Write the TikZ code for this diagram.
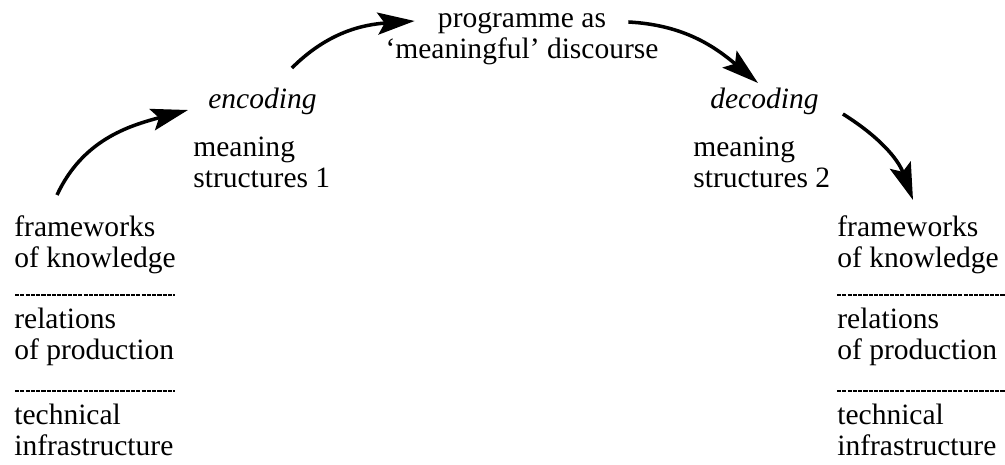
\documentclass[tikz,border=0pt]{standalone}
\usepackage{fontspec}
\setmainfont{Liberation Serif}
\usetikzlibrary{arrows.meta}

\tikzset{
    lbl/.style={inner sep=0pt, font=\fontsize{16.8}{20}\selectfont},
    flowarrow/.style={line width=2pt, -{Stealth[length=0.74cm, width=0.44cm, inset=0.14cm]}},
    rule/.style={line width=0.9pt, dash pattern=on 2.4pt off 0.6pt}
}

\begin{document}
\begin{tikzpicture}[x=0.02cm, y=0.02cm]
    \useasboundingbox (0,0) rectangle (1005,-465);

%____________________________________________________________________________________________________
    % top of the loop
    \node[lbl, anchor=base] (prog) at (522,-28) {programme as};
    \node[lbl, anchor=base] (disc) at (522,-59) {‘meaningful’ discourse};

    \node[lbl, anchor=base west] (enc) at (208,-109) {\itshape encoding};
    \node[lbl, anchor=base west] (msA) at (193,-157) {meaning};
    \node[lbl, anchor=base west] (msAb) at (193,-188) {structures 1};

    \node[lbl, anchor=base west] (dec) at (710,-109) {\itshape decoding};
    \node[lbl, anchor=base west] (msB) at (693,-157) {meaning};
    \node[lbl, anchor=base west] (msBb) at (693,-188) {structures 2};

%____________________________________________________________________________________________________
    % left stack
    \node[lbl, anchor=base west] (fwL) at (14,-237) {frameworks};
    \node[lbl, anchor=base west] (knowL) at (14,-268) {of knowledge};
    \draw[rule] (15,-295) -- (175,-295);
    \node[lbl, anchor=base west] (relL) at (14,-329) {relations};
    \node[lbl, anchor=base west] (prodL) at (14,-360) {of production};
    \draw[rule] (15,-391) -- (175,-391);
    \node[lbl, anchor=base west] (techL) at (14,-425) {technical};
    \node[lbl, anchor=base west] (infL) at (14,-456) {infrastructure};

%____________________________________________________________________________________________________
    % right stack
    \node[lbl, anchor=base west] (fwR) at (837,-237) {frameworks};
    \node[lbl, anchor=base west] (knowR) at (837,-268) {of knowledge};
    \draw[rule] (837,-295) -- (1005,-295);
    \node[lbl, anchor=base west] (relR) at (837,-329) {relations};
    \node[lbl, anchor=base west] (prodR) at (837,-360) {of production};
    \draw[rule] (837,-391) -- (1005,-391);
    \node[lbl, anchor=base west] (techR) at (837,-425) {technical};
    \node[lbl, anchor=base west] (infR) at (837,-456) {infrastructure};

%____________________________________________________________________________________________________
    % arrows
    \draw[flowarrow] ([shift={(43,42)}]fwL.base west) to[out=65, in=195] ([shift={(-20,-1)}]enc.base west);
    \draw[flowarrow] ([shift={(-25,41)}]enc.base east) to[out=45, in=184] ([shift={(-23,7)}]prog.base west);
    \draw[flowarrow] ([shift={(22,6)}]prog.base east) to[out=-3, in=140] ([shift={(48,26)}]dec.base west);
    \draw[flowarrow] ([shift={(24,-5)}]dec.base east) to[out=-32, in=110] ([shift={(76,37)}]fwR.base west);
\end{tikzpicture}
\end{document}
